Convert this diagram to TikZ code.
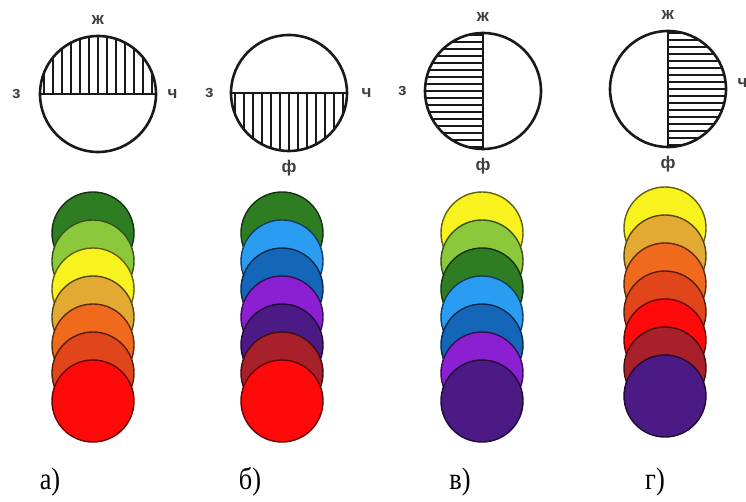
\documentclass[tikz,border=0pt]{standalone}
\usepackage{fontspec}
\setmainfont{Liberation Serif}
\newfontfamily\sidefont{Liberation Sans}
\usetikzlibrary{positioning,calc}
\definecolor{dgreen}{HTML}{2F7D22}
\definecolor{lgreen}{HTML}{8CC83C}
\definecolor{yel}{HTML}{F8F21E}
\definecolor{gold}{HTML}{E2AA32}
\definecolor{orng}{HTML}{F06A1E}
\definecolor{rorng}{HTML}{E0461A}
\definecolor{rd}{HTML}{FF0A0A}
\definecolor{sky}{HTML}{2A9DF2}
\definecolor{mblue}{HTML}{1466B8}
\definecolor{violet}{HTML}{8A20D2}
\definecolor{dpurple}{HTML}{4C1A84}
\definecolor{dred}{HTML}{A8202A}
\begin{document}
\begin{tikzpicture}[
  x=1pt,y=-1pt,
  disk/.style={circle,draw=black!90,line width=2.6pt,minimum size=116pt,inner sep=0pt},
  hatch/.style={draw=black!90,line width=1.8pt},
  divider/.style={draw=black!90,line width=2.4pt},
  sidelbl/.style={font=\sidefont\bfseries\fontsize{17}{17}\selectfont,text=black!75,inner sep=0pt},
  chip/.style={circle,line width=1.4pt,minimum size=82pt,inner sep=0pt},
  tag/.style={font=\fontsize{31}{31}\selectfont,xscale=0.85}
]
\useasboundingbox (0,0) rectangle (746,502);
% sky diagrams
\node[disk] (ka) at (98,94) {};
\node[disk] (kb) at (289,93) {};
\node[disk] (kv) at (483,91) {};
\node[disk] (kg) at (668,89) {};
% hatching
\begin{scope}
  \clip (ka.center) circle (58);
  \foreach \x in {-54,-45,...,54}
    \draw[hatch] ($(ka.center)+(\x,-60)$) -- ($(ka.center)+(\x,0)$);
\end{scope}
\begin{scope}
  \clip (kb.center) circle (58);
  \foreach \x in {-54,-45,...,54}
    \draw[hatch] ($(kb.center)+(\x,0)$) -- ($(kb.center)+(\x,60)$);
\end{scope}
\begin{scope}
  \clip (kv.center) circle (58);
  \foreach \y in {-56,-49,...,56}
    \draw[hatch] ($(kv.center)+(-60,\y)$) -- ($(kv.center)+(0,\y)$);
\end{scope}
\begin{scope}
  \clip (kg.center) circle (58);
  \foreach \y in {-56,-49,...,56}
    \draw[hatch] ($(kg.center)+(0,\y)$) -- ($(kg.center)+(60,\y)$);
\end{scope}
\draw[divider] (ka.west) -- (ka.east);
\draw[divider] (kb.west) -- (kb.east);
\draw[divider] (kv.north) -- (kv.south);
\draw[divider] (kg.north) -- (kg.south);
% side letters
\node[sidelbl,above=10pt of ka.north] (ka-n) {ж};
\node[sidelbl,left=18pt of ka.west] (ka-w) {з};
\node[sidelbl,right=10pt of ka.east] (ka-e) {ч};
\node[sidelbl,left=16pt of kb.west] (kb-w) {з};
\node[sidelbl,right=13pt of kb.east] (kb-e) {ч};
\node[sidelbl,below=8pt of kb.south] (kb-s) {ф};
\node[sidelbl,above=10pt of kv.north] (kv-n) {ж};
\node[sidelbl,left=17pt of kv.west] (kv-w) {з};
\node[sidelbl,below=8pt of kv.south] (kv-s) {ф};
\node[sidelbl,above=10pt of kg.north] (kg-n) {ж};
\node[sidelbl,right=10pt of kg.east,yshift=6pt] (kg-e) {ч};
\node[sidelbl,below=8pt of kg.south] (kg-s) {ф};
% colour stacks
\foreach \c [count=\i from 0] in {dgreen,lgreen,yel,gold,orng,rorng,rd}
  \node[chip,fill=\c,draw=\c!40!black] (sa\i) at (93,233+28*\i) {};
\foreach \c [count=\i from 0] in {dgreen,sky,mblue,violet,dpurple,dred,rd}
  \node[chip,fill=\c,draw=\c!40!black] (sb\i) at (282,233+28*\i) {};
\foreach \c [count=\i from 0] in {yel,lgreen,dgreen,sky,mblue,violet,dpurple}
  \node[chip,fill=\c,draw=\c!40!black] (sv\i) at (482,233+28*\i) {};
\foreach \c [count=\i from 0] in {yel,gold,orng,rorng,rd,dred,dpurple}
  \node[chip,fill=\c,draw=\c!40!black] (sg\i) at (665,228+28*\i) {};
% captions
\node[tag] (ta) at (50,482) {а)};
\node[tag] (tb) at (250,482) {б)};
\node[tag] (tv) at (460,482) {в)};
\node[tag] (tg) at (655,482) {г)};
\end{tikzpicture}
\end{document}
